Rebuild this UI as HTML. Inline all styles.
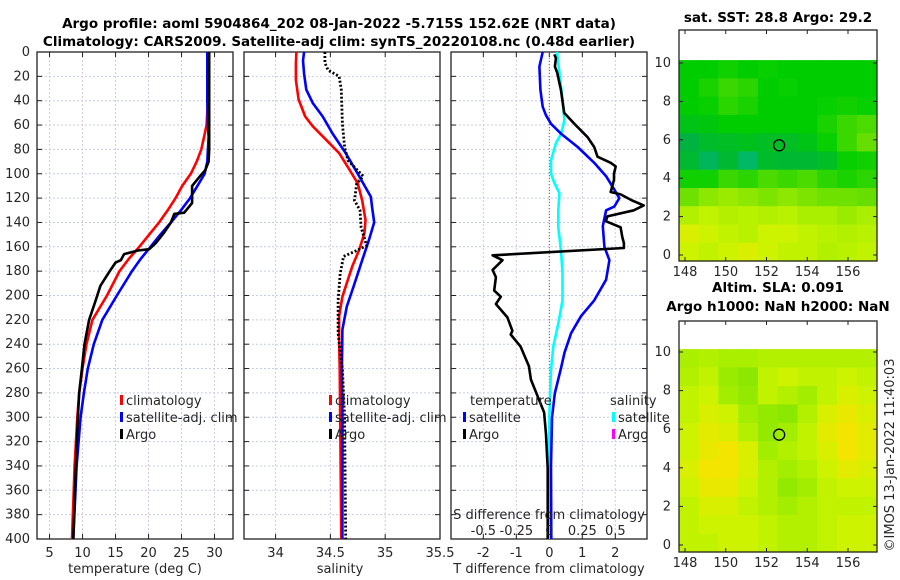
<!DOCTYPE html>
<html><head><meta charset="utf-8">
<style>
html,body{margin:0;padding:0;background:#fff}
svg{display:block;font-family:"DejaVu Sans","Liberation Sans",sans-serif}
.t{font-size:13px;fill:#262626}
.b{font-size:13.5px;font-weight:bold;fill:#000}
</style></head>
<body>
<svg id="c" width="900" height="580" viewBox="0 0 900 580" xmlns="http://www.w3.org/2000/svg"></svg>
<script>
// ---------- data ----------
const tDepth = [0,20,40,60,70,80,90,100,110,120,130,140,150,160,170,180,200,220,240,260,280,300,340,400];
const tClim  = [29,29,29,28.8,28.4,28.0,27.3,26.4,25.1,24.1,22.9,21.6,20.1,18.6,17.0,15.6,13.7,11.5,10.6,10.0,9.5,9.2,8.8,8.4];
const tSat   = [28.9,28.9,28.9,29.0,29.1,29.0,28.9,28.5,27.4,26.3,24.9,23.4,21.8,20.3,18.8,17.5,15.2,13.0,11.7,10.8,10.2,9.7,9.1,8.6];
const aDepth = [0,20,40,60,80,90,97,102,110,124,132,133,140,148,157,162,163,166,171,173,181,192,204,220,240,260,280,300,340,400];
const tArgo  = [29.2,29.2,29.2,29.2,29.2,29.1,28.6,27.8,26.6,26.6,25.4,23.9,23.4,22.4,21.1,20.1,18.4,16.3,15.8,15.0,14.0,12.7,12.0,11.0,10.3,9.9,9.5,9.3,9.0,8.6];

const sDepth = [0,9,23,39,53,61,72,83,96,108,122,138,149,163,176,187,201,217,236,260,300,400];
const sClim  = [34.19,34.185,34.185,34.21,34.27,34.34,34.46,34.58,34.67,34.75,34.79,34.82,34.81,34.76,34.70,34.66,34.61,34.58,34.58,34.585,34.59,34.60];
const sSatD  = [0,7,18,31,42,53,67,83,100,119,127,140,155,171,193,209,228,260,300,400];
const sSat   = [34.26,34.25,34.26,34.28,34.34,34.43,34.52,34.64,34.75,34.87,34.88,34.90,34.85,34.79,34.71,34.65,34.61,34.605,34.61,34.61];
const sArgoD = [0,9,15,20,31,59,78,89,102,108,122,130,144,159,163,168,182,204,231,260,300,400];
const sArgo  = [34.45,34.45,34.48,34.58,34.60,34.61,34.63,34.66,34.80,34.74,34.72,34.77,34.78,34.83,34.74,34.62,34.59,34.57,34.57,34.61,34.63,34.64];

const dTSatD = [0,12,31,45,52,59,67,78,91,102,113,120,127,130,143,160,171,187,204,217,231,247,260,280,300,340,400];
const dTSat  = [-0.2,-0.3,-0.27,-0.2,-0.1,0.05,0.35,0.86,1.36,1.72,1.97,2.12,1.97,1.72,1.62,1.67,1.82,1.72,1.36,0.96,0.66,0.46,0.35,0.17,0.08,0.05,0.06];
const dTArgoD= [2,5,12,17,31,50,59,70,78,86,91,94,100,105,115,117,122,126,130,135,139,144,152,157,161,167,171,179,185,196,201,207,218,229,232,242,258,269,296,314,342,400];
const dTArgo = [0.15,0.2,0.17,0.24,0.35,0.45,0.76,1.16,1.36,1.46,1.86,2.01,1.96,1.96,1.86,2.16,2.51,2.86,2.56,1.76,1.71,2.16,2.21,2.26,2.26,-1.72,-1.42,-1.72,-1.62,-1.67,-1.47,-1.62,-1.27,-1.12,-1.17,-0.87,-0.62,-0.56,-0.16,-0.1,-0.05,-0.05];
const dSSatD = [0,17,39,56,67,75,89,100,108,116,130,144,165,182,204,223,242,261,300,400];
const dSSat  = [0.058,0.076,0.1,0.114,0.09,0.05,0.013,0.013,0.04,0.076,0.068,0.068,0.09,0.1,0.1,0.068,0.03,0.013,0.0,-0.005];

const depthTicks = [0,20,40,60,80,100,120,140,160,180,200,220,240,260,280,300,320,340,360,380,400];
const tTicks = [5,10,15,20,25,30];
const sTicks = ["34","34.5","35","35.5"];
const dTTicks = [-2,-1,0,1,2];
const dSTicks = ["-0.5","-0.25","0","0.25","0.5"];
const lonTicks = [148,150,152,154,156];
const latTicks = [0,2,4,6,8,10];

const sstGrid = [
[.55,.55,.57,.55,.56,.55,.55,.55,.55,.55],
[.55,.58,.62,.60,.55,.56,.55,.55,.55,.55],
[.55,.56,.60,.58,.55,.55,.55,.56,.57,.56],
[.52,.53,.55,.55,.55,.55,.55,.58,.62,.64],
[.46,.49,.50,.51,.50,.50,.52,.56,.62,.67],
[.48,.43,.48,.42,.49,.48,.48,.50,.56,.57],
[.57,.57,.62,.60,.64,.62,.64,.60,.58,.60],
[.68,.72,.74,.72,.70,.72,.70,.68,.68,.67],
[.77,.79,.77,.78,.77,.78,.76,.76,.74,.76],
[.83,.81,.79,.78,.81,.81,.79,.78,.77,.78],
[.81,.79,.81,.83,.81,.79,.79,.77,.78,.79]];
const slaGrid = [
[.76,.77,.76,.76,.77,.77,.77,.77,.77,.77],
[.77,.79,.74,.72,.79,.81,.79,.79,.81,.79],
[.79,.81,.75,.73,.79,.77,.75,.79,.83,.81],
[.79,.83,.81,.75,.73,.72,.77,.83,.86,.83],
[.81,.85,.83,.77,.73,.75,.79,.85,.88,.85],
[.81,.86,.88,.83,.75,.77,.79,.83,.88,.85],
[.83,.88,.88,.83,.77,.75,.77,.81,.85,.83],
[.81,.86,.86,.81,.77,.73,.75,.79,.81,.81],
[.79,.83,.83,.79,.77,.75,.77,.79,.79,.79],
[.79,.81,.81,.81,.79,.77,.77,.79,.81,.81],
[.79,.79,.81,.81,.79,.77,.77,.79,.81,.81]];
const argoLon = [152.62];
const argoLat = [5.715];

// ---------- helpers ----------
const svg = document.getElementById('c');
const NS = 'http://www.w3.org/2000/svg';
function el(tag, attrs, parent){ const e=document.createElementNS(NS,tag); for(const k in attrs) e.setAttribute(k,attrs[k]); (parent||svg).appendChild(e); return e; }
function txt(s,x,y,cls,anchor,parent){ const e=el('text',{x:x,y:y,class:cls,'text-anchor':anchor||'middle'},parent); e.textContent=s; return e; }
const TOP=52, BOT=539;
const yD = d => TOP + d*(BOT-TOP)/400;
function lin(d0,d1,p0,p1){ return v => p0 + (v-d0)*(p1-p0)/(d1-d0); }

function panel(x0,x1,name,xs,ticks,tickVals){
  const g=el('g',{});
  
  
  depthTicks.forEach(d=>{ el('line',{x1:x0,x2:x1,y1:yD(d),y2:yD(d),stroke:'#c4cbe6','stroke-width':1,'stroke-dasharray':'2,2'},g); });
  tickVals.forEach(v=>{ el('line',{x1:xs(v),x2:xs(v),y1:TOP,y2:BOT,stroke:'#d8c8e0','stroke-width':1,'stroke-dasharray':'2,2'},g); });
  depthTicks.forEach(d=>{ el('line',{x1:x0,x2:x0+5,y1:yD(d),y2:yD(d),stroke:'#222'},g); el('line',{x1:x1-5,x2:x1,y1:yD(d),y2:yD(d),stroke:'#222'},g); });
  tickVals.forEach(v=>{ el('line',{x1:xs(v),x2:xs(v),y1:TOP,y2:TOP+5,stroke:'#222'},g); el('line',{x1:xs(v),x2:xs(v),y1:BOT-5,y2:BOT,stroke:'#222'},g); });
  el('rect',{x:x0,y:TOP,width:x1-x0,height:BOT-TOP,fill:'none',stroke:'#222','stroke-width':1.3},g);
  return g;
}
function curve(xs,vals,depths,color,name,w,dash,parent){
  let d=''; vals.forEach((v,i)=>{ d+=(i?'L':'M')+xs(v).toFixed(1)+','+yD(depths[i]).toFixed(1); });
  const p=el('path',{d:d,fill:'none',stroke:color,'stroke-width':w||2.6,'stroke-linejoin':'round'},parent);
  if(dash) p.setAttribute('stroke-dasharray',dash);
  
  
  return p;
}
function legItem(x,y,color,label,name){
  const g=el('g',{});
  
  
  el('rect',{x:x,y:y-10,width:3,height:10,fill:color},g);
  txt(label,x+6,y,'t','start',g);
}

// ---------- titles ----------
let t1=txt('Argo profile: aoml 5904864_202 08-Jan-2022 -5.715S 152.62E (NRT data)',339,28,'b');
 
let t2=txt('Climatology: CARS2009. Satellite-adj clim: synTS_20220108.nc (0.48d earlier)',339,46,'b');
 

// ---------- panel 1 temperature ----------
const xT = lin(3.1,32.8,37,233);
const g1 = panel(37,233,'temperature-panel',xT,tTicks,tTicks);
depthTicks.forEach(d=>{ txt(String(d),30,yD(d)+4,'t','end'); });
tTicks.forEach(v=>txt(String(v),xT(v),557,'t'));
txt('temperature (deg C)',135,573,'t');
curve(xT,tClim,tDepth,'#ff0000','temp-climatology-line',2.6,null,g1);
curve(xT,tSat,tDepth,'#0000ff','temp-satellite-line',2.6,null,g1);
curve(xT,tArgo,aDepth,'#000000','temp-argo-line',2.6,null,g1);
legItem(120,405,'#ff0000','climatology','legend-climatology');
legItem(120,422,'#0000ff','satellite-adj. clim','legend-satellite-adj');
legItem(120,439,'#000000','Argo','legend-argo');

// ---------- panel 2 salinity ----------
const xS = lin(33.712,35.5,244,440);
const sv = sTicks.map(Number);
const g2 = panel(244,440,'salinity-panel',xS,sTicks,sv);
sTicks.forEach(s=>txt(s,xS(Number(s)),557,'t'));
txt('salinity',340,573,'t');
curve(xS,sClim,sDepth,'#ff0000','sal-climatology-line',2.6,null,g2);
curve(xS,sSat,sSatD,'#0000ff','sal-satellite-line',2.6,null,g2);
curve(xS,sArgo,sArgoD,'#000000','sal-argo-line',2.8,'2,2',g2);
legItem(329,405,'#ff0000','climatology','legend-sal-climatology');
legItem(329,422,'#0000ff','satellite-adj. clim','legend-sal-satellite-adj');
legItem(329,439,'#000000','Argo','legend-sal-argo');

// ---------- panel 3 differences ----------
const xDT = lin(-2.98,2.96,451,647);
const xDSf = v => xDT(v*4);
const g3 = panel(451,647,'difference-panel',xDT,dTTicks,dTTicks);
el('line',{x1:xDT(0),x2:xDT(0),y1:TOP,y2:BOT,stroke:'#776644','stroke-width':1,'stroke-dasharray':'1,2'},g3);
dTTicks.forEach(v=>txt(String(v),xDT(v),557,'t'));
txt('T difference from climatology',549,573,'t');
txt('S difference from climatology',549,519,'t');
dSTicks.forEach(s=>txt(s,xDSf(Number(s)),535,'t'));
curve(xDSf,dSSat,dSSatD,'#00ffff','dS-satellite-line',2.6,null,g3);
curve(xDT,dTSat,dTSatD,'#0000ff','dT-satellite-line',2.6,null,g3);
curve(xDT,dTArgo,dTArgoD,'#000000','dT-argo-line',2.6,null,g3);
let lt=txt('temperature',470,405,'t','start');  
let ls=txt('salinity',610,405,'t','start');  
legItem(463,422,'#0000ff','satellite','legend-dT-satellite');
legItem(463,439,'#000000','Argo','legend-dT-argo');
legItem(612,422,'#00ffff','satellite','legend-dS-satellite');
legItem(612,439,'#ff00ff','Argo','legend-dS-argo');

// ---------- maps ----------
const cmapStops=[[0,[0,0,190]],[0.15,[0,110,255]],[0.3,[0,220,230]],[0.45,[0,175,70]],[0.55,[0,205,0]],[0.68,[110,225,0]],[0.8,[200,245,0]],[0.9,[255,225,0]],[1,[255,130,0]]];
function cmap(v){ for(let i=1;i<cmapStops.length;i++){ if(v<=cmapStops[i][0]){ const a=cmapStops[i-1],b=cmapStops[i],f=(v-a[0])/(b[0]-a[0]); const c=a[1].map((x,k)=>Math.round(x+(b[1][k]-x)*f)); return 'rgb('+c.join(',')+')'; } } return 'rgb(255,130,0)'; }
function map(boxTop,lat10y,lat0y,grid,name,title1,title2){
  const X0=679,X1=877,boxBot=boxTop+231;
  const xL = lin(148,156,685,848);
  const yL = lin(0,10,lat0y,lat10y);
  const g=el('g',{});
  
  
  const rows=grid.length, cols=grid[0].length;
  const latTop=10.15, latBot=(boxBot-lat0y)/((lat0y-lat10y)/10)*-1;
  const lonL=147.7, lonR=157.4;
  for(let r=0;r<rows;r++) for(let c=0;c<cols;c++){
    const la1=latTop-(latTop-latBot)*r/rows, la2=latTop-(latTop-latBot)*(r+1)/rows;
    const lo1=lonL+(lonR-lonL)*c/cols, lo2=lonL+(lonR-lonL)*(c+1)/cols;
    const cell=el('rect',{x:xL(lo1).toFixed(1),y:yL(la1).toFixed(1),width:(xL(lo2)-xL(lo1)+0.6).toFixed(1),height:(yL(la2)-yL(la1)+0.6).toFixed(1),fill:cmap(grid[r][c])},g);
    
    
  }
  argoLon.forEach((lo,i)=>{ const ci=el('circle',{cx:xL(lo),cy:yL(argoLat[i]),r:5.5,fill:'none',stroke:'#000','stroke-width':1.3},g);   });
  lonTicks.forEach(v=>{ el('line',{x1:xL(v),x2:xL(v),y1:boxTop,y2:boxTop+4,stroke:'#222'},g); el('line',{x1:xL(v),x2:xL(v),y1:boxBot-4,y2:boxBot,stroke:'#222'},g); txt(String(v),xL(v),boxBot+15,'t','middle',g); });
  latTicks.forEach(v=>{ el('line',{x1:X0,x2:X0+4,y1:yL(v),y2:yL(v),stroke:'#222'},g); el('line',{x1:X1-4,x2:X1,y1:yL(v),y2:yL(v),stroke:'#222'},g); txt(String(v),671,yL(v)+4,'t','end',g); });
  el('rect',{x:X0,y:boxTop,width:X1-X0,height:boxBot-boxTop,fill:'none',stroke:'#222','stroke-width':1.3},g);
  const a=txt(title1,778,title2?boxTop-29:boxTop-8,'b','middle');
   
  if(title2){ const b=txt(title2,778,boxTop-10,'b','middle');   }
}
map(30,63,255,sstGrid,'sst-map','sat. SST: 28.8 Argo: 29.2');
map(321,352,545,slaGrid,'sla-map','Altim. SLA: 0.091','Argo h1000: NaN h2000: NaN');

const cr=txt('©IMOS 13-Jan-2022 11:40:03',0,0,'t','middle');
cr.setAttribute('transform','translate(894,455) rotate(-90)');
 
</script>
</body></html>
